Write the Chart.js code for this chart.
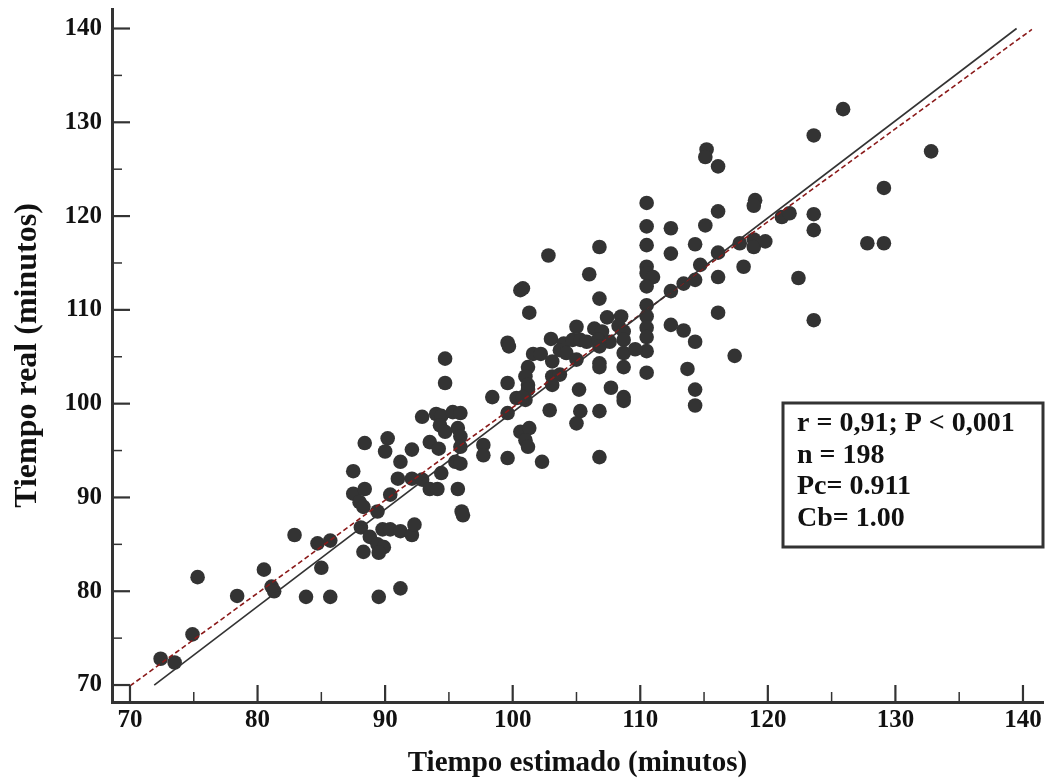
<!DOCTYPE html>
<html><head><meta charset="utf-8">
<script src="https://cdn.jsdelivr.net/npm/chart.js@4.4.0/dist/chart.umd.min.js"></script>
<style>html,body{margin:0;padding:0;background:#fff}canvas{display:block}</style>
</head><body>
<canvas id="c" width="1058" height="781"></canvas>
<script>
// Tiempo estimado (x) and Tiempo real (y)
const estimado = [
72.4,73.5,74.9,75.3,78.4,80.5,81.1,81.3,82.9,83.8,84.7,85.0,85.7,85.7,
92.9,94.0,94.4,95.3,95.9,94.3,94.7,95.7,95.9,95.9,97.7,97.7,88.4,90.2,90.0,92.1,93.5,94.2,91.2,87.5,95.5,95.9,94.4,91.0,92.1,92.9,93.5,94.1,95.7,87.5,88.4,88.0,88.3,90.4,89.4,96.0,96.1,88.1,88.8,89.8,90.4,91.2,92.1,92.3,89.4,89.9,88.3,89.5,89.5,91.2,
99.6,94.7,94.7,99.6,98.4,99.6,99.6,102.3,100.6,101.3,101.0,101.2,100.3,101.0,102.9,
106.8,102.8,106.0,100.6,100.8,106.8,101.3,107.4,108.5,105.0,106.4,107.0,108.3,108.7,99.7,103.0,104.0,104.7,105.3,105.8,106.7,107.6,108.7,101.6,102.2,103.1,103.7,104.2,105.0,106.8,106.8,106.8,108.7,101.2,101.0,101.2,101.2,100.8,103.1,103.7,103.1,108.7,105.2,107.7,108.7,105.3,105.0,106.8,106.8,
110.5,114.3,112.4,116.1,110.5,110.5,111.0,110.5,114.7,113.4,114.3,112.4,116.1,110.5,110.5,110.5,110.5,110.5,109.6,110.5,116.1,112.4,113.4,114.3,117.4,113.7,114.3,114.3,108.7,
125.9,123.6,129.1,119.0,118.9,121.1,121.7,123.6,123.6,117.8,118.9,118.9,119.8,118.1,122.4,127.8,129.1,123.6,
132.8,
115.2,115.1,116.1,110.5,116.1,110.5,112.4,115.1
];
const real = [
72.8,72.4,75.4,81.5,79.5,82.3,80.5,80.0,86.0,79.4,85.1,82.5,85.4,79.4,
98.6,98.9,98.7,99.1,99.0,97.7,97.0,97.4,96.5,95.4,95.6,94.5,95.8,96.3,94.9,95.1,95.9,95.2,93.8,92.8,93.8,93.6,92.6,92.0,92.0,91.9,90.9,90.9,90.9,90.4,90.9,89.5,89.0,90.3,88.5,88.5,88.1,86.8,85.8,86.6,86.6,86.4,86.0,87.1,85.0,84.7,84.2,84.1,79.4,80.3,
106.5,104.8,102.2,102.2,100.7,99.0,94.2,93.8,97.0,97.4,96.1,95.4,100.6,100.4,99.3,
116.7,115.8,113.8,112.1,112.3,111.2,109.7,109.2,109.3,108.2,108.0,107.7,108.3,107.7,106.1,106.9,106.4,106.8,106.8,106.6,106.8,106.6,106.8,105.3,105.3,104.5,105.7,105.4,104.7,106.1,104.3,103.9,105.4,103.9,102.9,102.0,101.5,100.7,102.9,103.1,102.0,103.9,101.5,101.7,100.7,99.2,97.9,99.2,94.3,
116.9,117.0,116.0,116.1,114.6,113.9,113.5,112.5,114.8,112.8,113.2,112.0,113.5,110.5,109.3,108.1,107.1,105.6,105.8,103.3,109.7,108.4,107.8,106.6,105.1,103.7,101.5,99.8,100.3,
131.4,128.6,123.0,121.7,121.1,119.9,120.3,120.2,118.5,117.1,117.5,116.7,117.3,114.6,113.4,117.1,117.1,108.9,
126.9,
127.1,126.3,125.3,121.4,120.5,118.9,118.7,119.0
];
const xTicks = [70,80,90,100,110,120,130,140];
const yTicks = [70,80,90,100,110,120,130,140];
const xMinor = [75,85,95,105,115,125,135];
const yMinor = [75,85,95,105,115,125,135];
// regression line (solid) and identity line (dashed)
const fitX = [71.9,139.5], fitY = [70.0,140.0];
const refX = [70.0,140.7], refY = [69.9,139.9];
const statsLines = ['r = 0,91; P < 0,001','n = 198','Pc= 0.911','Cb= 1.00'];
const xTitle = 'Tiempo estimado (minutos)';
const yTitle = 'Tiempo real (minutos)';

const INK = '#333333';
const RED = '#8b1a1a';
const FONT = '"Liberation Serif", "Times New Roman", serif';

const pts = estimado.map((v,i)=>({x:v,y:real[i]}));
const toXY = (xs,ys)=>xs.map((v,i)=>({x:v,y:ys[i]}));

const innerTicks = {
  id:'innerTicks',
  afterDatasetsDraw(chart){
    const {ctx, chartArea:a, scales:{x,y}} = chart;
    ctx.save(); ctx.strokeStyle = INK; ctx.lineCap = 'butt';
    const dx = (vals,len,w)=>{ctx.lineWidth=w; vals.forEach(v=>{const px=x.getPixelForValue(v); ctx.beginPath(); ctx.moveTo(px,a.bottom); ctx.lineTo(px,a.bottom-len); ctx.stroke();});};
    const dy = (vals,len,w)=>{ctx.lineWidth=w; vals.forEach(v=>{const py=y.getPixelForValue(v); ctx.beginPath(); ctx.moveTo(a.left,py); ctx.lineTo(a.left+len,py); ctx.stroke();});};
    dx(xTicks,17,2.2); dx(xMinor,10,1.5);
    dy(yTicks,18,2.2); dy(yMinor,10,1.5);
    ctx.restore();
  }
};
const statsBox = {
  id:'statsBox',
  afterDraw(chart){
    const {ctx} = chart;
    ctx.save();
    ctx.fillStyle = '#fff'; ctx.fillRect(783,403,260,144);
    ctx.strokeStyle = INK; ctx.lineWidth = 3; ctx.strokeRect(783,403,260,144);
    ctx.fillStyle = '#111'; ctx.font = 'bold 28px ' + FONT; ctx.textBaseline = 'middle'; ctx.textAlign = 'left';
    statsLines.forEach((t,i)=>ctx.fillText(t,797,424+i*31.5));
    ctx.restore();
  }
};

const tickFont = {family:FONT,size:25,weight:'bold'};

new Chart(document.getElementById('c'),{
  type:'scatter',
  data:{datasets:[
    {type:'line',data:toXY(fitX,fitY),borderColor:INK,borderWidth:1.6,pointRadius:0,fill:false},
    {type:'line',data:toXY(refX,refY),borderColor:RED,borderWidth:1.6,borderDash:[5,3],pointRadius:0,fill:false},
    {data:pts,backgroundColor:INK,borderWidth:0,pointRadius:7.3,pointHoverRadius:7.3}
  ]},
  options:{
    responsive:false, animation:false, devicePixelRatio:1, events:[],
    layout:{padding:{left:0,right:15,top:9,bottom:0}},
    plugins:{legend:{display:false},tooltip:{enabled:false}},
    scales:{
      x:{type:'linear',min:68.59,max:141.57,
        afterBuildTicks:s=>{s.ticks=xTicks.map(v=>({value:v}));},
        afterFit:s=>{s.height=79; s.paddingLeft=0; s.paddingRight=0;},
        grid:{display:false,drawTicks:false},
        border:{display:true,color:INK,width:3},
        ticks:{color:'#111',font:tickFont,padding:4,maxRotation:0,autoSkip:false},
        title:{display:true,text:xTitle,color:'#111',font:{family:FONT,size:29,weight:'bold'},padding:{top:0,bottom:0}}
      },
      y:{type:'linear',min:68.19,max:142.08,
        afterBuildTicks:s=>{s.ticks=yTicks.map(v=>({value:v}));},
        afterFit:s=>{s.width=112; s.paddingTop=0; s.paddingBottom=0;},
        grid:{display:false,drawTicks:false},
        border:{display:true,color:INK,width:3},
        ticks:{color:'#111',font:tickFont,padding:10,autoSkip:false},
        title:{display:true,text:yTitle,color:'#111',font:{family:FONT,size:32,weight:'bold'},padding:{top:9,bottom:0}}
      }
    }
  },
  plugins:[innerTicks,statsBox]
});
</script>
</body></html>
